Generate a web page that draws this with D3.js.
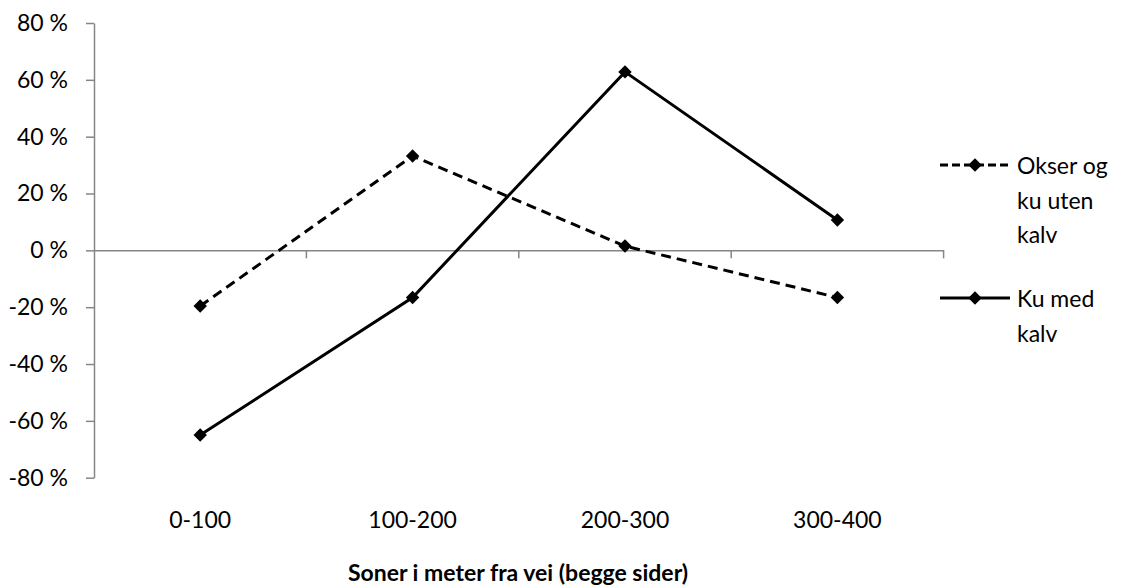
<html>
    <head>
        <script src="https://d3js.org/d3.v7.min.js"></script>
        <style>
            body { margin: 0; background: white; }
            text { font-family: Lato, "Open Sans", sans-serif; fill: #000; }
        </style>
    </head>
    <body>
        <svg id='chart' width='1122' height='588'></svg>
        <script>
            // data
            const categories = ['0-100', '100-200', '200-300', '300-400'];
            const okserValues = [-19.6, 33.2, 1.5, -16.6];
            const kuMedKalvValues = [-65, -16.6, 62.8, 10.7];
            const yTicks = [-80, -60, -40, -20, 0, 20, 40, 60, 80];
            const seriesNames = [['Okser og', 'ku uten', 'kalv'], ['Ku med', 'kalv']];
            const xTitle = 'Soner i meter fra vei (begge sider)';

            const svg = d3.select('svg#chart');
            const axisColor = '#868686';
            const fs = 23;

            const x = d3.scaleBand().domain(categories).range([94, 943.6]);
            const y = d3.scaleLinear().domain([-80, 80]).range([477.7, 23]);
            const cx = c => x(c) + x.bandwidth() / 2;

            // y axis
            const yAxis = svg.append('g')
                .attr('transform', 'translate(94,0)')
                .call(d3.axisLeft(y).tickValues(yTicks).tickSize(8).tickSizeOuter(0)
                    .tickPadding(18).tickFormat(d => d + ' %'));
            yAxis.selectAll('path, line').attr('stroke', axisColor).attr('stroke-width', 1.5);
            yAxis.selectAll('text').attr('font-size', fs).attr('font-family', 'Lato').attr('fill', '#000');

            // x axis at 0 %
            const xAxis = svg.append('g')
                .attr('transform', `translate(0,${y(0)})`)
                .call(d3.axisBottom(x).tickSize(0).tickSizeOuter(0).tickFormat(''));
            xAxis.select('path').attr('stroke', axisColor).attr('stroke-width', 1.5);
            xAxis.selectAll('.tick').remove();
            const bounds = categories.map(c => x(c) + x.bandwidth());
            xAxis.selectAll('line.b').data(bounds).join('line')
                .attr('class', 'b')
                .attr('x1', d => d).attr('x2', d => d)
                .attr('y1', 0).attr('y2', 8)
                .attr('stroke', axisColor).attr('stroke-width', 1.5);

            // category labels at the bottom
            svg.append('g').selectAll('text').data(categories).join('text')
                .attr('x', d => cx(d))
                .attr('y', 528)
                .attr('text-anchor', 'middle')
                .attr('font-size', fs)
                .text(d => d);

            svg.append('text')
                .attr('x', 518)
                .attr('y', 581)
                .attr('text-anchor', 'middle')
                .attr('font-size', fs)
                .attr('font-weight', 'bold')
                .text(xTitle);

            // series
            const line = d3.line().x((d, i) => cx(categories[i])).y(d => y(d));
            const diamond = d3.symbol(d3.symbolDiamond2, 115);
            const series = [
                { values: okserValues, dash: '10,6', names: seriesNames[0], ly: 165 },
                { values: kuMedKalvValues, dash: null, names: seriesNames[1], ly: 298 }
            ];

            series.forEach(s => {
                svg.append('path')
                    .attr('d', line(s.values))
                    .attr('fill', 'none')
                    .attr('stroke', '#000')
                    .attr('stroke-width', 3)
                    .attr('stroke-dasharray', s.dash);
                svg.append('g').selectAll('path').data(s.values).join('path')
                    .attr('transform', (d, i) => `translate(${cx(categories[i])},${y(d)})`)
                    .attr('d', diamond)
                    .attr('fill', '#000');

                // legend
                svg.append('line')
                    .attr('x1', 940).attr('x2', 1010)
                    .attr('y1', s.ly).attr('y2', s.ly)
                    .attr('stroke', '#000')
                    .attr('stroke-width', 3)
                    .attr('stroke-dasharray', s.dash ? '8,4' : null);
                svg.append('path')
                    .attr('transform', `translate(975,${s.ly})`)
                    .attr('d', diamond)
                    .attr('fill', '#000');
                svg.append('g').selectAll('text').data(s.names).join('text')
                    .attr('x', 1017)
                    .attr('y', (d, i) => s.ly + 9 + i * 34.5)
                    .attr('font-size', fs)
                    .text(d => d);
            });
        </script>
    </body>
</html>
